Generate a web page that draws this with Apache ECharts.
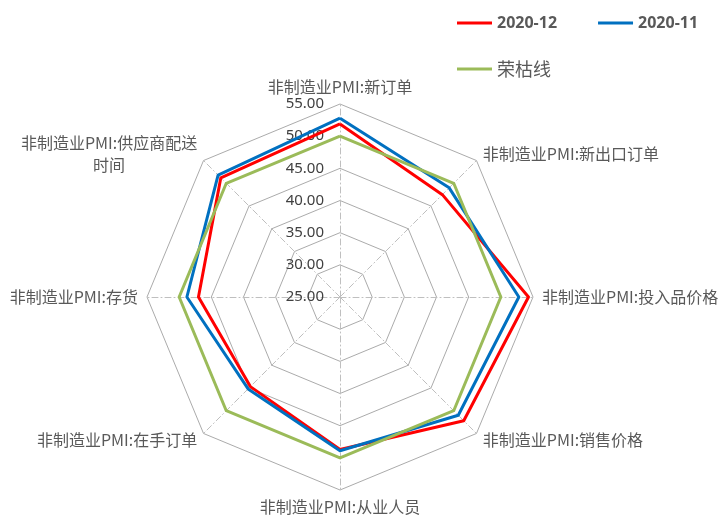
<!DOCTYPE html>
<html>
<head>
<meta charset="utf-8">
<script src="https://cdn.jsdelivr.net/npm/echarts@6/dist/echarts.min.js"></script>
<style>
html,body{margin:0;padding:0;background:#fff;}
#chart{width:721px;height:518px;}
</style>
</head>
<body>
<div id="chart"></div>
<script>
// Indicators listed clockwise from the top, as in the reference
var categories = [
  '非制造业PMI:新订单',
  '非制造业PMI:新出口订单',
  '非制造业PMI:投入品价格',
  '非制造业PMI:销售价格',
  '非制造业PMI:从业人员',
  '非制造业PMI:在手订单',
  '非制造业PMI:存货',
  '非制造业PMI:供应商配送时间'
];
var seriesNames = ['2020-12', '2020-11', '荣枯线'];
var dec2020 = [51.9, 47.5, 54.3, 52.2, 48.7, 44.7, 47.0, 51.2];
var nov2020 = [52.8, 49.0, 52.8, 51.0, 48.9, 45.2, 48.8, 51.8];
var line50  = [50, 50, 50, 50, 50, 50, 50, 50];
var axisMin = 25, axisMax = 55, axisSplits = 6;

// ECharts places indicators counter-clockwise; reorder to get clockwise layout
var order = [0, 7, 6, 5, 4, 3, 2, 1];
function reorder(arr){ return order.map(function(i){ return arr[i]; }); }

var indicators = reorder(categories).map(function(name, k){
  var ind = { name: name, min: axisMin, max: axisMax };
  if (k === 0) ind.axisLabel = { show: true };
  return ind;
});

var chart = echarts.init(document.getElementById('chart'), null, {renderer:'canvas'});
chart.setOption({
  backgroundColor: '#ffffff',
  animation: false,
  color: ['#FF0000', '#0070C0', '#9BBB59'],
  legend: [{
    data: [seriesNames[0], seriesNames[1]],
    left: 452, top: 10,
    icon: 'rect', itemWidth: 35, itemHeight: 3, itemGap: 41,
    textStyle: { fontSize: 16, fontWeight: 'bold', color: '#595959', fontFamily: '"Noto Sans","Noto Sans CJK SC",sans-serif' }
  }, {
    data: [seriesNames[2]],
    left: 452, top: 55,
    icon: 'rect', itemWidth: 35, itemHeight: 3,
    textStyle: { fontSize: 18, color: '#595959', fontFamily: '"Noto Sans CJK SC",sans-serif' }
  }],
  radar: {
    center: [340, 297],
    radius: 193,
    startAngle: 90,
    shape: 'polygon',
    splitNumber: axisSplits,
    indicator: indicators,
    axisName: {
      color: '#595959',
      fontSize: 16,
      fontFamily: '"Noto Sans CJK SC",sans-serif',
      formatter: function(v){
        if (v.length > 14) {
          var a = v.slice(0, 13), b = v.slice(13);
          return '{c|' + a + '}\n{c|' + b + '}';
        }
        return v;
      },
      rich: { c: { align: 'center', fontSize: 16, color: '#595959', fontFamily: '"Noto Sans CJK SC",sans-serif', lineHeight: 22 } }
    },
    nameGap: 9,
    splitLine: { lineStyle: { color: '#ABABAB', width: 1 } },
    splitArea: { show: false },
    axisLine: { lineStyle: { color: '#BFBFBF', width: 1, type: [6, 3, 1, 3] } },
    axisTick: { show: false },
    axisLabel: {
      show: false,
      showMinLabel: true,
      showMaxLabel: true,
      fontSize: 15,
      color: '#404040',
      margin: 16,
      fontFamily: '"Noto Sans",sans-serif',
      formatter: function(v){ return Number(v).toFixed(2); }
    }
  },
  series: [{
    type: 'radar',
    symbol: 'none',
    lineStyle: { width: 3 },
    data: [
      { name: seriesNames[0], value: reorder(dec2020), lineStyle: { width: 3, color: '#FF0000' }, itemStyle: { color: '#FF0000' } },
      { name: seriesNames[1], value: reorder(nov2020), lineStyle: { width: 3, color: '#0070C0' }, itemStyle: { color: '#0070C0' } },
      { name: seriesNames[2], value: reorder(line50), lineStyle: { width: 3, color: '#9BBB59' }, itemStyle: { color: '#9BBB59' } }
    ]
  }]
});
</script>
</body>
</html>
